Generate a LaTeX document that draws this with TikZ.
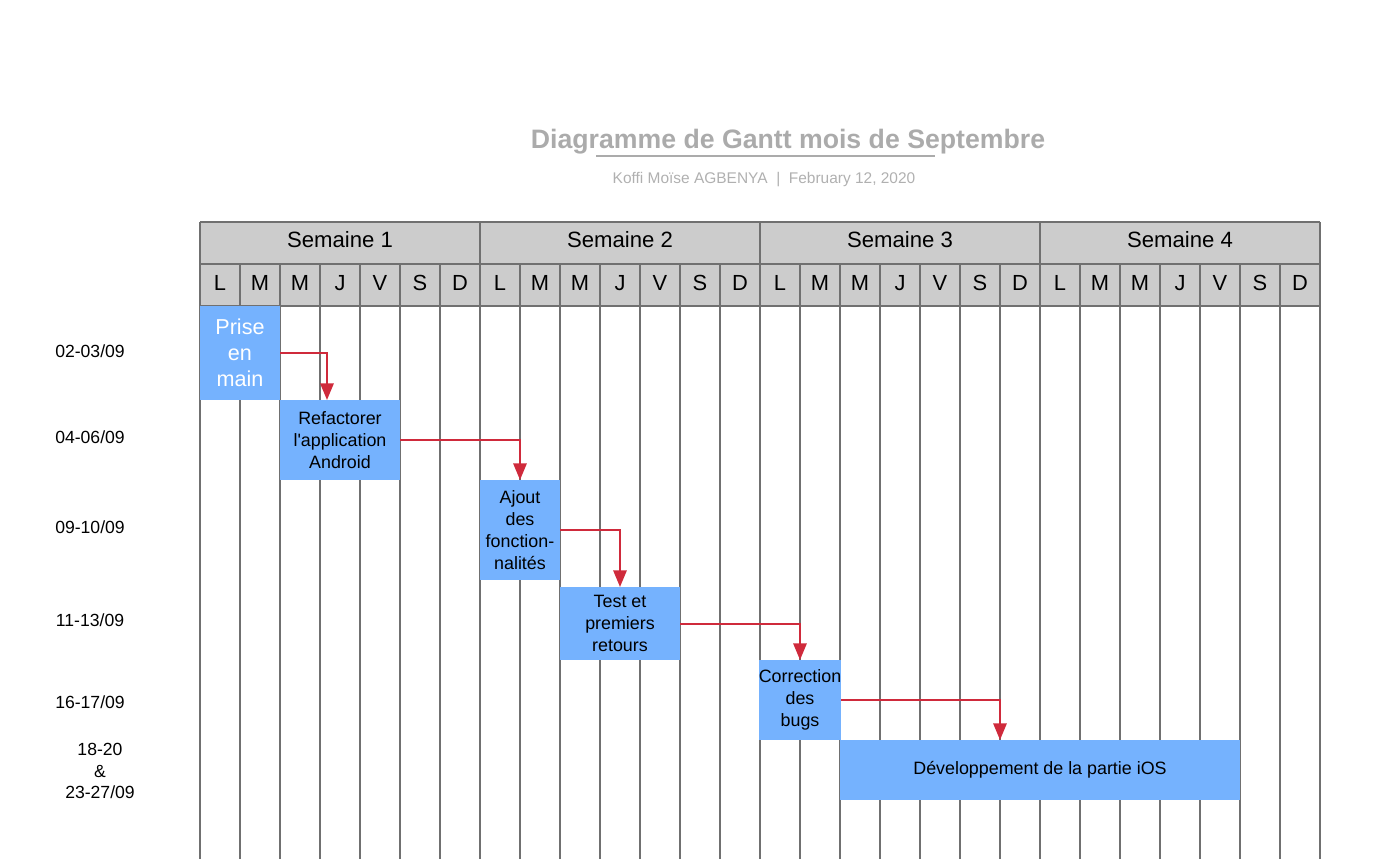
\documentclass[tikz,border=0pt]{standalone}
\usepackage{fontspec}
\setmainfont{Liberation Sans}
\usetikzlibrary{arrows.meta}
\definecolor{hdr}{HTML}{CCCCCC}
\definecolor{gridc}{HTML}{707070}
\definecolor{barc}{HTML}{75B2FE}
\definecolor{arr}{HTML}{CF2A3B}
\definecolor{ttl}{HTML}{ABABAB}
\definecolor{sub}{HTML}{B0B0B0}
\begin{document}
\begin{tikzpicture}[x=0.75pt,y=-0.75pt,
  gridline/.style={draw=gridc, line width=0.9pt},
  task/.style={fill=barc, inner sep=0pt, align=center, text=black,
    font=\fontsize{13.4}{16.4}\selectfont},
  link/.style={draw=arr, line width=1.5pt, -{Triangle[length=12.5pt,width=10pt]}},
  datelbl/.style={align=center, font=\fontsize{13.2}{16.4}\selectfont},
  weeklbl/.style={font=\fontsize{16.6}{19}\selectfont},
  daylbl/.style={font=\fontsize{16.4}{19}\selectfont}]
\useasboundingbox (0,0) rectangle (1386,859);
% title
\node[text=ttl, font=\fontsize{20}{24}\selectfont\bfseries] (title) at (788,142) {Diagramme de Gantt mois de Septembre};
\coordinate (ul1) at (596,156);
\coordinate (ul2) at (935,156);
\draw[ttl, line width=1.4pt] (ul1) -- (ul2);
\node[text=sub, font=\fontsize{11.6}{14}\selectfont] (subtitle) at (764,180) {Koffi Moïse AGBENYA~~|~~February 12, 2020};
% header
\fill[hdr] (200,222) rectangle (1320,306);
\foreach \i in {0,...,28} \draw[gridline] (200+40*\i,264) -- (200+40*\i,859);
\foreach \i in {0,7,14,21,28} \draw[gridline] (200+40*\i,222) -- (200+40*\i,264);
\foreach \y in {222,264,306} \draw[gridline] (200,\y) -- (1320,\y);
\foreach \w [count=\k from 0] in {1,2,3,4}
  \node[weeklbl] (week\w) at (340+280*\k,240) {Semaine \w};
\foreach \d [count=\k from 0] in {L,M,M,J,V,S,D,L,M,M,J,V,S,D,L,M,M,J,V,S,D,L,M,M,J,V,S,D}
  \node[daylbl] (day\k) at (220+40*\k,283) {\d};
% tasks
\node[task, minimum width=60pt, minimum height=70.5pt, text=white,
  font=\fontsize{16.2}{19.5}\selectfont] (prise) at (240,353) {Prise\\en\\main};
\node[task, minimum width=90pt, minimum height=60pt] (refac) at (340,440) {Refactorer\\l\textquotesingle application\\Android};
\node[task, minimum width=60pt, minimum height=75pt] (ajout) at (520,530) {Ajout\\des\\fonction-\\nalités};
\node[task, minimum width=90pt, minimum height=54.75pt] (test) at (620,623.5) {Test et\\premiers\\retours};
\node[task, minimum width=60pt, minimum height=60pt] (corr) at (800,700) {Correction\\des\\bugs};
\node[task, minimum width=300pt, minimum height=45pt] (dev) at (1040,770) {Développement de la partie iOS};
% links
\coordinate (t1) at (327,400);
\coordinate (t2) at (520,480);
\coordinate (t3) at (620,587);
\coordinate (t4) at (800,660);
\coordinate (t5) at (1000,740);
\draw[link] (prise.east) -| (t1);
\draw[link] (refac.east) -| (t2);
\draw[link] (ajout.east) -| (t3);
\draw[link] (test.east) -| (t4);
\draw[link] (corr.east) -| (t5);
% date labels
\node[datelbl] (d1) at (90,351) {02-03/09};
\node[datelbl] (d2) at (90,437) {04-06/09};
\node[datelbl] (d3) at (90,527) {09-10/09};
\node[datelbl] (d4) at (90,620) {11-13/09};
\node[datelbl] (d5) at (90,702) {16-17/09};
\node[datelbl] (d6) at (100,771) {18-20\\\&\\23-27/09};
\end{tikzpicture}
\end{document}
